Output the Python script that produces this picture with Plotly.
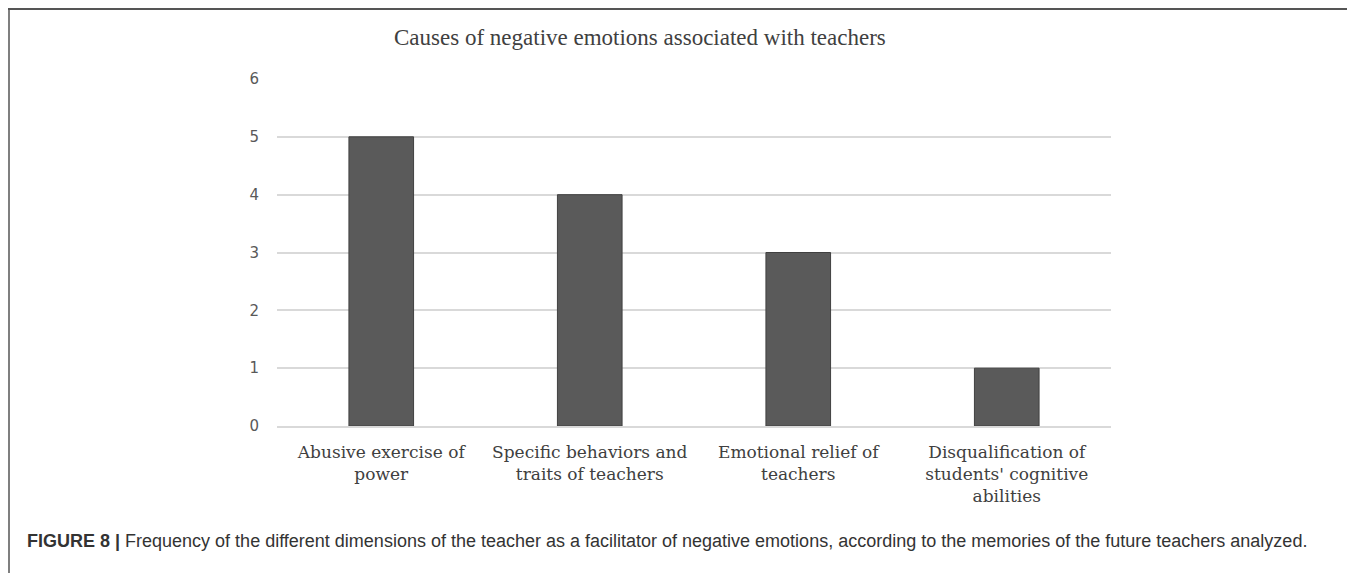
import plotly.graph_objects as go

categories = [
    "Abusive exercise of<br>power",
    "Specific behaviors and<br>traits of teachers",
    "Emotional relief of<br>teachers",
    "Disqualification of<br>students' cognitive<br>abilities",
]
values = [5, 4, 3, 1]
y_ticks = [0, 1, 2, 3, 4, 5, 6]

title_text = "Causes of negative emotions associated with teachers"
caption_text = ("<b>FIGURE 8 |</b> Frequency of the different dimensions of the teacher as a "
                "facilitator of negative emotions, according to the memories of the future teachers analyzed.")

OFF = 8  # page body margin
W, H = 1355 - OFF, 573 - OFF
L, R, T, B = 277 - OFF, 1111 - OFF, 79 - OFF, 426 - OFF  # plot area in figure pixels


def px_x(p):
    # p given in page pixels
    return (p - OFF - L) / (R - L)


def px_y(p):
    return (B - (p - OFF)) / (B - T)


fig = go.Figure(
    go.Bar(
        x=categories,
        y=values,
        marker=dict(color="#5a5a5a", line=dict(color="#404040", width=1)),
        width=0.31,
    )
)

fig.update_layout(
    width=W,
    height=H,
    margin=dict(l=L, r=W - R, t=T, b=H - B, pad=0),
    paper_bgcolor="white",
    plot_bgcolor="white",
    showlegend=False,
    xaxis=dict(
        showgrid=False,
        showline=True,
        linecolor="#d9d9d9",
        linewidth=1.5,
        ticks="",
        tickfont=dict(family="DejaVu Serif", size=17, color="#404040"),
        ticklabelstandoff=10,
    ),
    yaxis=dict(
        range=[0, 6],
        tickvals=y_ticks,
        showgrid=True,
        gridcolor="#d9d9d9",
        gridwidth=1.5,
        zeroline=False,
        showline=False,
        ticks="",
        tickfont=dict(family="DejaVu Sans", size=15, color="#595959"),
        ticklabelstandoff=17,
    ),
    shapes=[
        dict(type="line", xref="paper", yref="paper",
             x0=px_x(4), x1=px_x(1360), y0=px_y(9), y1=px_y(9),
             line=dict(color="#555555", width=2)),
        dict(type="line", xref="paper", yref="paper",
             x0=px_x(9), x1=px_x(9), y0=px_y(9), y1=px_y(580),
             line=dict(color="#555555", width=1.5)),
    ],
    annotations=[
        dict(text=title_text, xref="paper", yref="paper",
             x=px_x(640), y=px_y(37), xanchor="center", yanchor="middle",
             showarrow=False,
             font=dict(family="Liberation Serif", size=23, color="#404040")),
        dict(text=caption_text, xref="paper", yref="paper",
             x=px_x(25), y=px_y(541), xanchor="left", yanchor="middle",
             showarrow=False,
             font=dict(family="Liberation Sans", size=18, color="#333333")),
    ],
)

fig.write_html("out.html")
